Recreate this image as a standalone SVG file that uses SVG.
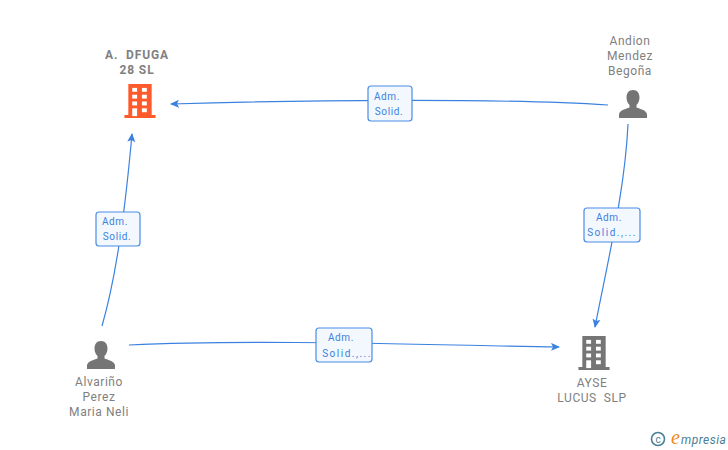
<svg xmlns="http://www.w3.org/2000/svg" width="728" height="450" viewBox="0 0 728 450">
<style>
text{font-family:Roboto,"Liberation Sans",Arial,sans-serif}
.n{font-size:12px;fill:#808080;text-anchor:middle;letter-spacing:.55px}
.b{font-weight:bold;letter-spacing:.9px}
.l{font-size:10px;fill:#3b82e0;text-anchor:middle;letter-spacing:.6px}
.s{letter-spacing:1.5px}
.e{fill:none;stroke:#3b82e0;stroke-width:1.2}
.box{fill:#f3f8fe;stroke:#4a8ce6;stroke-width:1.2}
.ah{fill:#3b82e0}
.w{fill:#fff}
</style>
<defs>
<marker id="a" markerWidth="10" markerHeight="10" refX="8" refY="4" orient="auto" markerUnits="userSpaceOnUse"><path class="ah" d="M0 0L9 4L0 8L2 4Z"/></marker>
<symbol id="bld" viewBox="0 0 32 36" overflow="visible">
<path d="M4 0H28V32H32V35H0V32H4Z"/>
<g class="w"><rect x="8" y="4" width="5" height="4"/><rect x="18" y="4" width="5" height="4"/><rect x="8" y="11" width="5" height="4"/><rect x="18" y="11" width="5" height="4"/><rect x="8" y="18" width="5" height="4"/><rect x="18" y="18" width="5" height="4"/><rect x="8" y="25" width="5" height="8"/><rect x="18" y="25" width="5" height="4"/></g>
</symbol>
<symbol id="per" viewBox="0 0 28 28" overflow="visible">
<path d="M14 0C18.500 0 20.500 3.500 20.500 7.500C20.500 11 19 13.500 17.500 15V17.500C21 19 27 20 28 24V28H0V24C1 20 7 19 10.500 17.500V15C9 13.500 7.500 11 7.500 7.500C7.500 3.500 9.500 0 14 0Z"/>
</symbol>
</defs>
<g id="connectors">
<path class="e" marker-end="url(#a)" d="M608 105C500 98 300 100 171 104"/>
<path class="e" marker-end="url(#a)" d="M102 326C118 270 126 200 132 134"/>
<path class="e" marker-end="url(#a)" d="M628 124C625 190 608 260 595 327"/>
<path class="e" marker-end="url(#a)" d="M129 345C260 339 430 345 559 347"/>
</g>
<g id="edge-label-1"><rect class="box" x="368" y="86" width="44" height="35" rx="3"/><text class="l" x="387" y="100">Adm.</text><text class="l" x="389" y="115">Solid.</text></g>
<g id="edge-label-2"><rect class="box" x="96" y="212" width="44" height="34" rx="3"/><text class="l" x="115" y="225">Adm.</text><text class="l" x="117" y="240">Solid.</text></g>
<g id="edge-label-3"><rect class="box" x="584" y="208" width="56" height="34" rx="3"/><text class="l" x="609" y="221">Adm.</text><text class="l s" x="612" y="236">Solid.,...</text></g>
<g id="edge-label-4"><rect class="box" x="316" y="328" width="56" height="34" rx="3"/><text class="l" x="341" y="341">Adm.</text><text class="l s" x="347" y="357">Solid.,...</text></g>
<g id="node-dfuga"><use href="#bld" x="124" y="84" width="32" height="35" fill="#ff5a2c"/><text class="n b" x="137" y="59" xml:space="preserve">A.  DFUGA</text><text class="n b" x="137" y="74">28 SL</text></g>
<g id="node-andion"><use href="#per" x="619" y="90" width="28" height="28" fill="#757575"/><text class="n" x="630" y="45">Andion</text><text class="n" x="630" y="60">Mendez</text><text class="n" x="630" y="75">Begoña</text></g>
<g id="node-alvarino"><use href="#per" x="87" y="341" width="28" height="28" fill="#757575"/><text class="n" x="99" y="386">Alvariño</text><text class="n" x="99" y="401">Perez</text><text class="n" x="99" y="416">Maria Neli</text></g>
<g id="node-ayse"><use href="#bld" x="578" y="336" width="32" height="35" fill="#757575"/><text class="n" x="592" y="387">AYSE</text><text class="n" x="592" y="402" xml:space="preserve">LUCUS  SLP</text></g>
<g id="brand"><circle cx="658" cy="439" r="6.500" fill="none" stroke="#4a7f96" stroke-width="1.600"/><text x="658" y="442.500" font-size="10" fill="#4a7f96" text-anchor="middle">c</text><text x="671" y="444" font-size="20" font-style="italic" fill="#f08a1d" style="font-family:'Liberation Serif',serif">e</text><text x="681" y="444" font-size="12" font-style="italic" fill="#4a7f96" letter-spacing=".5">mpresia</text></g>
</svg>
